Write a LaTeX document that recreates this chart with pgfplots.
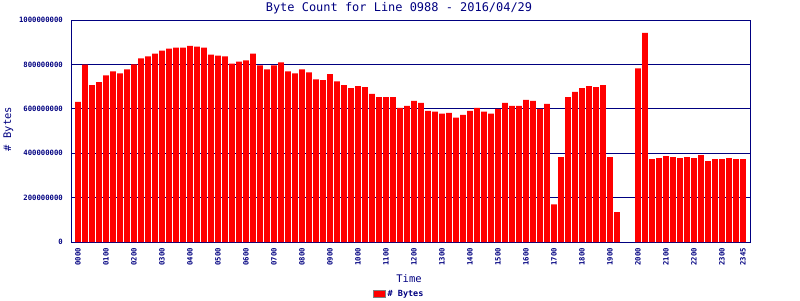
\documentclass[border=0pt]{standalone}
\usepackage{fontspec}
\setmainfont{DejaVu Sans Mono}
\usepackage{pgfplots}
\pgfplotsset{compat=1.18}
\definecolor{navy}{RGB}{0,0,128}
\begin{document}
\begin{tikzpicture}[x=1bp,y=1bp]
\path[use as bounding box] (0,0) rectangle (800,300);
\begin{axis}[
  at={(71bp,58bp)}, anchor=south west, scale only axis,
  width=679bp, height=222bp,
  xmin=-1, xmax=96, ymin=0, ymax=1000000000,
  ybar, bar width=0.8, bar shift=0pt,
  xtick={0,4,8,12,16,20,24,28,32,36,40,44,48,52,56,60,64,68,72,76,80,84,88,92,95},
  xticklabels={0000,0100,0200,0300,0400,0500,0600,0700,0800,0900,1000,1100,1200,1300,1400,1500,1600,1700,1800,1900,2000,2100,2200,2300,2345},
  ytick={0,200000000,400000000,600000000,800000000,1000000000},
  yticklabels={0,200000000,400000000,600000000,800000000,1000000000},
  scaled y ticks=false,
  major tick length=0pt,
  ymajorgrids, grid style={navy, line width=0.9bp},
  axis line style={navy, line width=0.9bp},
  tick label style={font=\fontsize{7.3}{8}\selectfont\bfseries, text=navy},
  xticklabel style={rotate=90, anchor=east, inner sep=0pt},
  yticklabel style={inner sep=0pt},
  xticklabel shift=6bp, yticklabel shift=8bp,
  legend style={at={(0.483,-0.234)}, anchor=center, draw=none, fill=none,
    inner sep=0pt, font=\fontsize{8.5}{9}\selectfont\bfseries, text=navy},
  legend cell align=left,
]
\addplot[fill=red, draw=none,
  legend image code/.code={\draw[fill=red,draw=gray,line width=1.2bp] (0bp,-3.5bp) rectangle (12bp,3.5bp);}]
coordinates {
(0,631000000) (1,799000000) (2,707000000) (3,720000000) (4,751000000) (5,769000000)
(6,760000000) (7,778000000) (8,800000000) (9,827000000) (10,836000000) (11,849000000)
(12,862000000) (13,871000000) (14,876000000) (15,876000000) (16,884000000) (17,880000000)
(18,876000000) (19,844000000) (20,840000000) (21,836000000) (22,804000000) (23,813000000)
(24,818000000) (25,849000000) (26,796000000) (27,778000000) (28,796000000) (29,809000000)
(30,769000000) (31,760000000) (32,778000000) (33,764000000) (34,733000000) (35,729000000)
(36,756000000) (37,724000000) (38,707000000) (39,693000000) (40,702000000) (41,698000000)
(42,667000000) (43,653000000) (44,653000000) (45,653000000) (46,604000000) (47,613000000)
(48,636000000) (49,627000000) (50,591000000) (51,587000000) (52,578000000) (53,582000000)
(54,560000000) (55,573000000) (56,591000000) (57,604000000) (58,587000000) (59,578000000)
(60,600000000) (61,627000000) (62,613000000) (63,613000000) (64,640000000) (65,636000000)
(66,600000000) (67,622000000) (68,170000000) (69,382000000) (70,653000000) (71,676000000)
(72,693000000) (73,702000000) (74,698000000) (75,707000000) (76,382000000) (77,135000000)
(80,782000000) (81,942000000) (82,373000000) (83,378000000)
(84,387000000) (85,382000000) (86,378000000) (87,382000000) (88,378000000) (89,391000000)
(90,364000000) (91,373000000) (92,373000000) (93,378000000) (94,373000000) (95,373000000)
};
\addlegendentry{\# Bytes}
\end{axis}
\node[text=navy, font=\fontsize{12}{14}\selectfont, anchor=base] at (399,289) {Byte Count for Line 0988 - 2016/04/29};
\node[text=navy, font=\fontsize{10.5}{12}\selectfont, anchor=base] at (409,18) {Time};
\node[text=navy, font=\fontsize{10.5}{12}\selectfont, anchor=base, rotate=90] at (11,171) {\# Bytes};
\end{tikzpicture}
\end{document}
